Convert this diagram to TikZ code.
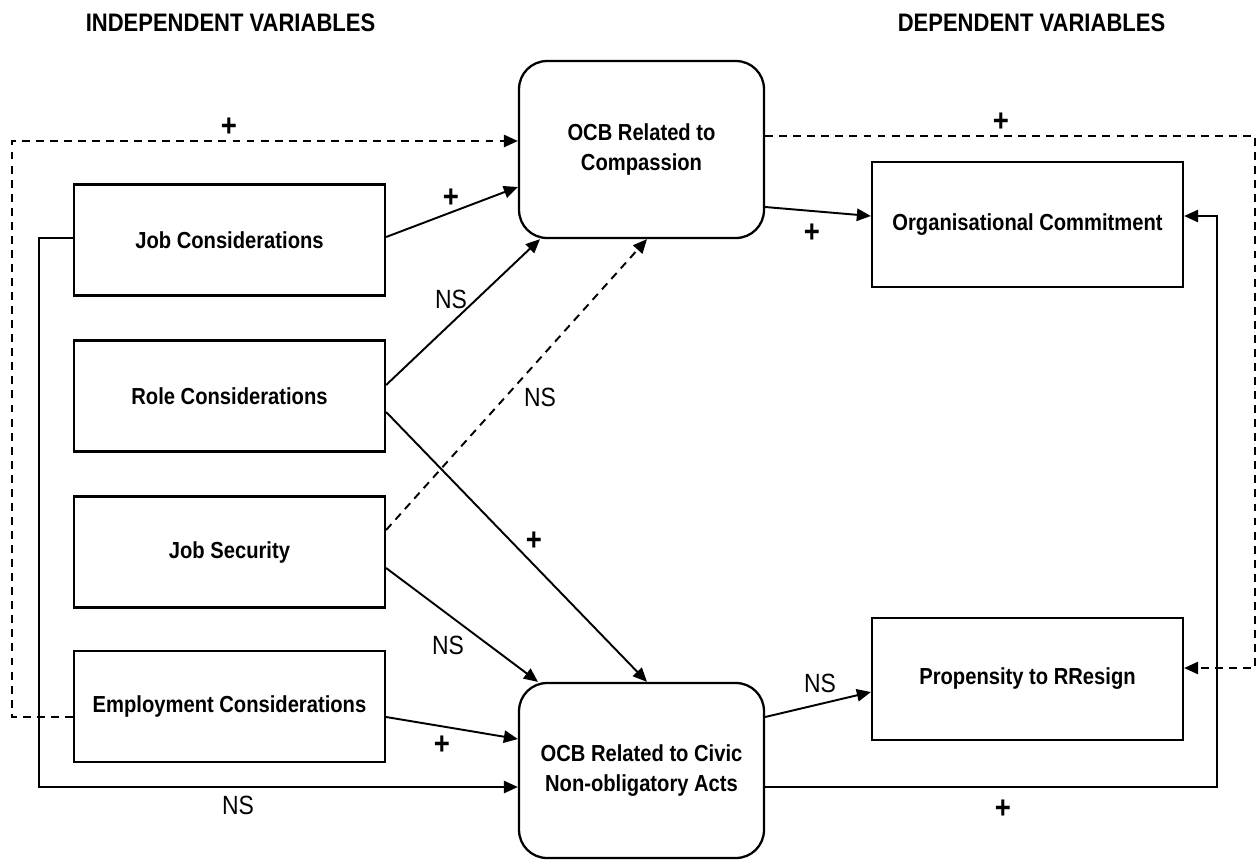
\documentclass[tikz,border=0pt]{standalone}
\usepackage{fontspec}
\setmainfont[FakeStretch=0.87]{Liberation Sans}
\usetikzlibrary{arrows.meta}
\begin{document}
\begin{tikzpicture}[x=0.02cm,y=-0.02cm,
  box/.style={draw,line width=1.3pt,minimum width=6.22cm,minimum height=2.22cm,inner sep=0pt,font=\fontsize{13.2}{15}\selectfont\bfseries},
  ocb/.style={draw,line width=1.3pt,rounded corners=0.56cm,minimum width=4.9cm,inner sep=0pt,align=center,font=\fontsize{13.2}{17.5}\selectfont\bfseries},
  arr/.style={line width=1.1pt,-{Triangle[length=8pt,width=7pt]}},
  dsh/.style={dash pattern=on 4.5pt off 3.5pt},
  plus/.style={font=\fontsize{18}{18}\selectfont\bfseries,inner sep=0pt},
  ns/.style={font=\fontsize{15}{15}\selectfont,inner sep=0pt},
  hdr/.style={font=\fontsize{14.4}{16}\selectfont\bfseries,inner sep=0pt}
]
\useasboundingbox (0,0) rectangle (1257,859);
% headers
\node[hdr] (hl) at (230.5,23) {INDEPENDENT VARIABLES};
\node[hdr] (hr) at (1031.5,23) {DEPENDENT VARIABLES};
% independent boxes
\node[box] (jc) at (229.5,240) {Job Considerations};
\node[box] (rc) at (229.5,396) {Role Considerations};
\node[box] (js) at (229.5,552) {Job Security};
\node[box] (ec) at (229.5,706.5) {Employment Considerations};
% OCB boxes
\node[ocb,minimum height=3.54cm] (ocbA) at (641.5,149.5) {OCB Related to\\Compassion};
\node[ocb,minimum height=3.5cm] (ocbB) at (641.5,770.5) {OCB Related to Civic\\Non-obligatory Acts};
% dependent boxes
\node[box,minimum height=2.5cm] (oc) at (1027.5,224.5) {Organisational Commitment};
\node[box,minimum height=2.44cm] (pr) at (1027.5,679) {Propensity to RResign};
% long connectors
\draw[arr,dsh] (ec.west |- 0,717) -| (12,141) -- (ocbA.west |- 0,141);
\draw[arr,dsh] (ocbA.east |- 0,136) -| (1255,668) -- (pr.east |- 0,668);
\draw[arr] (jc.west |- 0,238) -| (39,787) -- (ocbB.west |- 0,787);
\draw[arr] (ocbB.east |- 0,787) -| (1217,216) -- (oc.east |- 0,216);
% direct connectors
\draw[arr] (jc.east |- 0,237) -- (ocbA.west |- 0,187);
\draw[arr] (rc.east |- 0,385) -- (ocbA.south -| 540,0);
\draw[arr] (rc.east |- 0,412) -- (ocbB.north -| 647,0);
\draw[arr,dsh] (js.east |- 0,530) -- (ocbA.south -| 647,0);
\draw[arr] (js.east |- 0,568) -- (ocbB.north -| 538,0);
\draw[arr] (ec.east |- 0,717) -- (ocbB.west |- 0,739);
\draw[arr] (ocbA.east |- 0,207) -- (oc.west |- 0,216);
\draw[arr] (ocbB.east |- 0,717) -- (pr.west |- 0,692);
% labels
\node[plus] (l1) at (229,127) {+};
\node[plus] (l2) at (1001,122) {+};
\node[ns] (l3) at (238,805) {NS};
\node[plus] (l4) at (1003,809) {+};
\node[plus] (l5) at (451,198) {+};
\node[ns] (l6) at (451,299) {NS};
\node[ns] (l7) at (540,397) {NS};
\node[plus] (l8) at (534,541) {+};
\node[ns] (l9) at (448,645) {NS};
\node[plus] (l10) at (442,745) {+};
\node[plus] (l11) at (812,233) {+};
\node[ns] (l12) at (820,683) {NS};
\end{tikzpicture}
\end{document}
